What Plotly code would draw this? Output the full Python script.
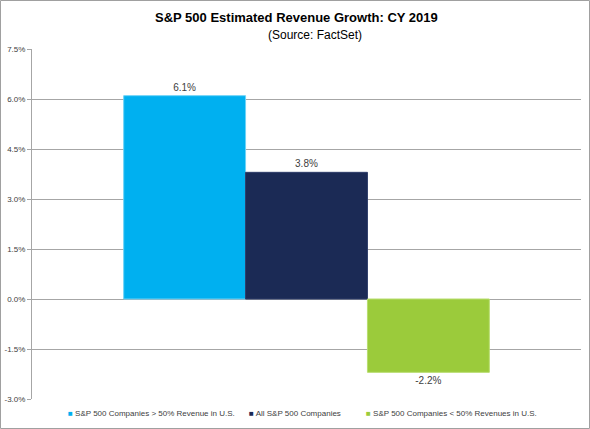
import plotly.graph_objects as go

series_names = ["S&P 500 Companies > 50% Revenue in U.S.",
                "All S&P 500 Companies",
                "S&P 500 Companies < 50% Revenues in U.S."]
values = [6.1, 3.8, -2.2]
colors = ["#00B0F0", "#1B2A55", "#9BCB3B"]
edge_colors = ["#6FD3F7", "#2E3D6A", "#B7DD6E"]
category = ["CY 2019"]
tick_vals = [-3.0, -1.5, 0.0, 1.5, 3.0, 4.5, 6.0, 7.5]
tick_text = ["-3.0%", "-1.5%", "0.0%", "1.5%", "3.0%", "4.5%", "6.0%", "7.5%"]

FONT = "Liberation Sans, Arial, sans-serif"

fig = go.Figure()
for name, v, c, ec in zip(series_names, values, colors, edge_colors):
    fig.add_trace(go.Bar(
        x=category, y=[v], name=name, showlegend=False,
        marker=dict(color=c, line=dict(color=ec, width=1)),
        text=[v], texttemplate="%{y:.1f}%", textposition="outside",
        textfont=dict(family=FONT, size=10, color="#404040"),
        cliponaxis=False, hoverinfo="skip",
    ))

W, H = 590, 429
L, R, T, B = 32, 9, 49, 30
pw, ph = W - L - R, H - T - B

def px_x(x):
    return (x - L) / pw

def px_y(y):
    return (H - B - y) / ph

legend_x = [66, 247, 364]
legend_ann = [
    dict(text=f"<span style='color:{c}; font-size:8px'>■</span> {n.replace('<', '&lt;').replace('>', '&gt;')}",
         xref="paper", yref="paper", x=px_x(lx), y=px_y(413), xanchor="left", yanchor="middle",
         showarrow=False, font=dict(family=FONT, size=8, color="#404040"))
    for n, c, lx in zip(series_names, colors, legend_x)
]

fig.update_layout(
    width=W, height=H,
    margin=dict(l=L, r=R, t=T, b=B, pad=0, autoexpand=False),
    paper_bgcolor="white", plot_bgcolor="white",
    barmode="group", bargap=0.334, bargroupgap=0,
    font=dict(family=FONT, size=8, color="#404040"),
    showlegend=False,
    xaxis=dict(showticklabels=False, showgrid=False, showline=False, zeroline=False, ticks="",
               automargin=False),
    yaxis=dict(range=[-3.0, 7.5], tickmode="array", tickvals=tick_vals, ticktext=tick_text,
               showgrid=True, gridcolor="#A6A6A6", gridwidth=1,
               zeroline=True, zerolinecolor="#A6A6A6", zerolinewidth=1,
               showline=True, linecolor="#A6A6A6", linewidth=1,
               ticks="outside", ticklen=4, tickcolor="#A6A6A6", automargin=False,
               tickfont=dict(family=FONT, size=8, color="#404040")),
    annotations=[
        dict(text="<b>S&P 500 Estimated Revenue Growth: CY 2019</b>", xref="paper", yref="paper",
             x=px_x(296), y=px_y(17), xanchor="center", yanchor="middle", showarrow=False,
             font=dict(family=FONT, size=13, color="#000000")),
        dict(text="(Source: FactSet)", xref="paper", yref="paper",
             x=px_x(315), y=px_y(35), xanchor="center", yanchor="middle", showarrow=False,
             font=dict(family=FONT, size=12, color="#000000")),
    ] + legend_ann,
    shapes=[dict(type="rect", xref="paper", yref="paper",
                 x0=px_x(0.5), x1=px_x(589.5), y0=px_y(428.5), y1=px_y(0.5),
                 line=dict(color="#A0A0A0", width=1), fillcolor="rgba(0,0,0,0)", layer="above")],
)

fig.write_html("out.html", config={"displayModeBar": False},
               post_script="document.body.style.margin='0';")
